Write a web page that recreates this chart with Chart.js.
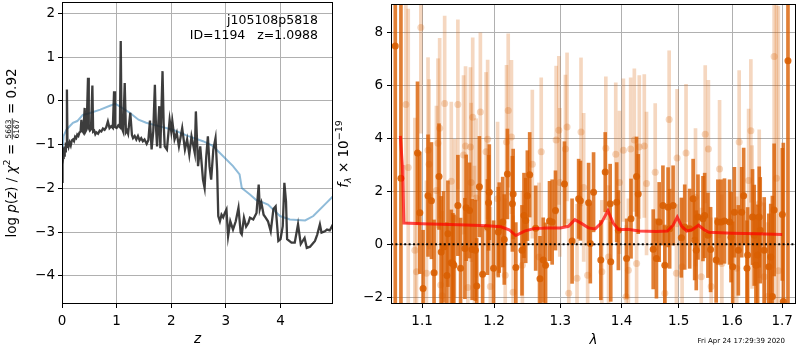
<!DOCTYPE html>
<html><head><meta charset="utf-8">
<script src="https://cdn.jsdelivr.net/npm/chart.js@4.4.0/dist/chart.umd.min.js"></script>
<style>
html,body{margin:0;padding:0;background:#fff;width:800px;height:350px;overflow:hidden;}
#lw{position:absolute;left:0;top:0;width:340px;height:350px;}
#rw{position:absolute;left:325px;top:0;width:475px;height:350px;}
</style></head><body>
<div id="lw"><canvas id="left"></canvas></div>
<div id="rw"><canvas id="right"></canvas></div>
<script>
// ---------- left panel: log p(z) ----------
const pzZ = [0.00,0.01,0.02,0.03,0.04,0.05,0.06,0.07,0.08,0.09,0.10,0.12,0.14,0.16,0.18,0.20,0.22,0.24,0.26,0.28,0.30,0.32,0.34,0.355,0.37,0.39,0.415,0.43,0.45,0.476,0.49,0.51,0.53,0.556,0.57,0.59,0.61,0.63,0.66,0.69,0.72,0.75,0.78,0.81,0.84,0.87,0.90,0.93,0.953,0.97,1.00,1.03,1.06,1.075,1.09,1.12,1.148,1.17,1.19,1.21,1.25,1.28,1.30,1.33,1.36,1.39,1.42,1.45,1.48,1.51,1.55,1.58,1.61,1.64,1.67,1.70,1.72,1.74,1.78,1.80,1.84,1.86,1.88,1.92,1.97,2.00,2.02,2.06,2.10,2.14,2.20,2.25,2.29,2.33,2.37,2.43,2.45,2.49,2.53,2.58,2.61,2.64,2.67,2.70,2.73,2.77,2.81,2.84,2.86,2.89,2.92,2.95,2.98,3.01,3.04,3.08,3.13,3.18,3.23,3.27,3.29,3.33,3.37,3.41,3.44,3.50,3.56,3.60,3.62,3.65,3.69,3.73,3.77,3.82,3.87,3.91,3.96,4.00,4.04,4.07,4.10,4.12,4.20,4.26,4.32,4.37,4.44,4.48,4.54,4.63,4.67,4.72,4.75,4.81,4.85,4.90,4.96];
const logPz = [-1.85,-1.45,-1.30,-1.20,-1.25,-1.04,-1.15,-0.95,-1.05,0.26,-0.95,-1.05,-0.95,-1.02,-0.90,-0.88,-0.92,-0.82,-0.85,-0.77,-0.80,-0.72,-0.70,-0.43,-0.68,-0.72,-0.16,-0.70,-0.65,0.53,-0.62,-0.68,-0.65,0.35,-0.70,-0.68,-0.76,-0.72,-0.75,-0.68,-0.70,-0.63,-0.66,-0.60,-0.47,-0.62,-0.58,-0.62,0.22,-0.60,-0.62,-0.56,-0.60,1.37,-0.60,-0.70,0.41,-0.72,-0.68,-0.75,-0.27,-0.78,-0.85,-0.80,-0.88,-0.80,-0.90,-0.85,-0.92,-0.88,-0.98,-0.90,-0.45,-1.11,-0.70,0.37,-0.60,-1.04,-0.12,-1.08,0.68,-0.50,-1.04,-1.11,-0.43,-0.70,-0.47,-0.88,-0.73,-1.04,-0.62,-1.11,-0.88,-1.23,-0.81,-1.19,-0.24,-1.49,-1.04,-1.80,-1.99,-1.27,-0.81,-1.49,-1.80,-1.11,-0.85,-1.60,-2.63,-2.75,-2.60,-2.66,-2.56,-2.48,-3.09,-2.75,-2.94,-2.75,-2.44,-3.01,-3.05,-2.67,-2.87,-2.79,-2.67,-2.71,-2.56,-1.91,-2.47,-2.33,-2.60,-2.67,-2.75,-2.98,-2.47,-2.41,-3.20,-3.16,-2.86,-1.87,-2.30,-3.16,-3.24,-3.24,-2.82,-3.27,-3.13,-3.36,-3.33,-3.20,-3.06,-2.82,-3.01,-2.98,-2.94,-2.96,-2.82];
const chi2Z   = [0.00,0.03,0.08,0.14,0.20,0.28,0.38,0.50,0.70,0.90,0.97,1.05,1.24,1.40,1.54,1.75,2.03,2.30,2.58,2.75,2.89,3.13,3.25,3.29,3.44,3.56,3.62,3.77,3.99,4.17,4.45,4.60,4.84,4.96];
const chi2Val = [-1.30,-0.80,-0.66,-0.58,-0.50,-0.46,-0.32,-0.28,-0.20,-0.10,-0.06,-0.12,-0.27,-0.43,-0.50,-0.57,-0.66,-0.80,-0.92,-1.02,-1.19,-1.49,-1.68,-1.99,-2.14,-2.27,-2.29,-2.37,-2.63,-2.71,-2.73,-2.63,-2.33,-2.18];
const leftXTicks = [0,1,2,3,4];
const leftYTicks = [-4,-3,-2,-1,0,1,2];
const zRange = [0, 4.96];
const logpRange = [-4.64, 2.26];
const objName = 'j105108p5818';
const objInfo = 'ID=1194   z=1.0988';

// ---------- right panel: spectrum ----------
const darkWave = [1.0649,1.0722,1.0939,1.0970,1.1013,1.1079,1.1125,1.1160,1.1227,1.1257,1.1291,1.1335,1.1349,1.1395,1.1417,1.1431,1.1486,1.1524,1.1584,1.1602,1.1649,1.1686,1.1732,1.1751,1.1789,1.1835,1.1904,1.1921,1.1931,1.1993,1.2061,1.2075,1.2126,1.2149,1.2195,1.2269,1.2280,1.2320,1.2412,1.2442,1.2468,1.2493,1.2528,1.2619,1.2685,1.2735,1.2771,1.2832,1.2873,1.2925,1.3066,1.3187,1.3292,1.3320,1.3453,1.3481,1.3534,1.3653,1.3726,1.3808,1.3818,1.3918,1.3946,1.4086,1.4161,1.4256,1.4285,1.4546,1.4603,1.4651,1.4718,1.4752,1.4810,1.4838,1.4900,1.5049,1.5111,1.5202,1.5265,1.5294,1.5323,1.5355,1.5448,1.5480,1.5541,1.5591,1.5696,1.5729,1.5790,1.5855,1.5953,1.5981,1.6014,1.6046,1.6123,1.6188,1.6227,1.6292,1.6305,1.6402,1.6436,1.6469,1.6503,1.6535,1.6555,1.6635,1.6728,1.6767,1.6801,1.6836,1.7004,1.7024,1.7120];
const darkFlux = [7.50,2.50,3.45,1.19,-1.67,1.84,1.65,-1.08,2.56,-0.29,-0.10,-1.18,0.40,-0.70,-0.73,-0.79,1.47,-0.91,-0.16,1.38,1.28,-0.20,-0.23,-1.58,2.18,-1.13,0.65,1.57,1.97,-0.91,0.46,0.63,0.84,0.18,2.66,1.53,1.90,-0.88,-0.23,1.09,0.90,1.84,2.63,0.61,-1.30,-0.60,-0.79,0.88,0.84,1.28,2.28,0.12,1.72,1.65,1.57,0.03,1.97,-0.60,2.73,1.53,-0.66,1.59,0.53,-0.54,0.97,2.56,1.90,-0.19,-0.54,0.84,1.47,-0.79,1.40,0.59,1.47,0.25,0.65,0.59,1.72,0.15,-0.23,1.03,0.97,1.09,0.34,-0.20,-0.60,0.84,0.84,0.88,0.84,0.27,-0.85,1.21,-0.23,1.21,1.84,-0.91,-0.41,1.03,0.34,-0.79,-0.41,1.03,0.53,-0.23,-0.85,-0.48,-1.98,1.30,1.13,-2.17,6.94];
const darkErr  = [20,20,2.7,2.3,2.2,2.3,2.2,2.0,2.0,2.1,2.1,2.0,2.0,2.0,1.9,1.9,1.9,1.9,1.9,2.0,1.8,1.9,1.9,1.8,1.9,1.8,1.8,1.8,1.8,1.8,1.7,1.7,1.7,1.7,1.7,1.8,1.7,1.7,1.7,1.6,1.6,1.7,1.6,1.6,1.6,1.6,1.6,1.5,1.6,1.5,1.6,1.6,1.5,1.5,1.5,1.5,1.5,1.5,1.5,1.5,1.5,1.5,1.5,1.5,1.5,1.5,1.5,1.5,1.5,1.5,1.5,1.5,1.5,1.5,1.5,1.5,1.6,1.5,1.5,1.5,1.5,1.6,1.6,1.6,1.6,1.6,1.6,1.6,1.6,1.6,1.6,1.7,1.7,1.7,1.7,1.7,1.8,1.8,1.8,1.8,1.9,1.9,1.9,1.9,2.0,2.0,2.0,2.0,3.8,2.5,2.5,6.0,20];
const lightWave = [1.0787,1.0817,1.0904,1.0926,1.0983,1.1058,1.1079,1.1093,1.1192,1.1213,1.1236,1.1250,1.1270,1.1304,1.1395,1.1440,1.1486,1.1565,1.1593,1.1625,1.1662,1.1672,1.1694,1.1718,1.1742,1.1803,1.1884,1.1907,1.1946,1.2051,1.2163,1.2182,1.2207,1.2255,1.2280,1.2418,1.2568,1.2669,1.2704,1.2935,1.2977,1.2992,1.3082,1.3107,1.3134,1.3266,1.3330,1.3373,1.3437,1.3670,1.3736,1.3781,1.3902,1.3964,1.4031,1.4077,1.4116,1.4155,1.4218,1.4257,1.4303,1.4390,1.4429,1.4581,1.4752,1.4829,1.4960,1.4972,1.5063,1.5135,1.5309,1.5416,1.5490,1.5550,1.5602,1.5761,1.5805,1.6091,1.6139,1.6324,1.6369,1.6393,1.6535,1.6635,1.6701,1.6836,1.6883,1.6923];
const lightFlux = [5.29,2.90,-0.23,-1.04,8.20,-1.10,3.56,3.03,2.03,3.82,4.39,-1.54,-1.95,5.33,2.38,0.97,5.29,3.38,3.72,-1.64,3.68,2.34,4.81,-0.04,1.75,5.00,3.50,3.97,-1.60,1.72,-1.17,3.87,5.06,4.06,-1.82,-0.79,3.03,-0.48,3.50,3.94,4.31,2.34,3.60,4.44,-1.85,-1.29,4.25,2.15,-1.17,-1.04,3.63,-0.48,3.41,2.34,3.56,-1.99,-0.98,3.60,3.94,-0.73,3.68,3.72,2.30,2.72,-1.85,4.72,-1.10,3.26,-0.85,3.45,1.78,-1.23,4.16,3.60,-1.60,2.85,-0.73,-0.91,3.87,2.41,4.29,1.03,1.53,-1.23,-1.98,7.10,2.50,-1.00];
const lightErr  = [4.5,6.0,5.0,4.5,4.0,3.5,3.5,3.2,3.2,3.2,3.4,3.2,3.2,3.3,3.0,3.0,3.2,3.0,3.0,3.0,3.0,3.0,3.0,3.0,3.0,3.0,3.0,3.0,3.0,2.9,2.9,2.9,2.9,2.9,2.9,2.8,2.8,2.8,2.8,2.8,2.8,2.8,2.8,2.8,2.8,2.8,2.8,2.8,2.8,2.7,2.7,2.7,2.7,2.7,2.7,2.7,2.7,2.7,2.7,2.7,2.7,2.7,2.7,2.6,2.6,2.6,2.6,2.6,2.6,2.6,2.6,2.6,2.6,2.6,2.6,2.6,2.6,2.7,2.7,2.7,2.7,2.7,2.8,2.8,2.8,8.0,9.0,10.0];
const modelWave = [1.0715,1.0740,1.0747,1.0760,1.10,1.15,1.19,1.21,1.222,1.232,1.245,1.26,1.28,1.30,1.313,1.323,1.333,1.345,1.356,1.366,1.377,1.386,1.395,1.41,1.43,1.46,1.48,1.49,1.4975,1.505,1.515,1.525,1.5365,1.547,1.556,1.60,1.65,1.70];
const modelFlux = [4.10,3.00,2.50,0.80,0.78,0.74,0.70,0.66,0.55,0.33,0.50,0.60,0.62,0.62,0.68,0.93,0.80,0.62,0.58,0.80,1.27,0.80,0.55,0.57,0.50,0.48,0.50,0.72,1.03,0.70,0.50,0.55,0.72,0.55,0.45,0.42,0.40,0.37];
const rightXTicks = [1.1,1.2,1.3,1.4,1.5,1.6,1.7];
const rightYTicks = [-2,0,2,4,6,8];
const lamRange = [1.0594, 1.7287];
const fluxRange = [-2.26, 9.09];
const stamp = 'Fri Apr 24 17:29:39 2020';

// ---------- helpers ----------
const FAM = "'DejaVu Sans', sans-serif";
const F = (s, it) => (it ? 'italic ' : '') + s + 'px ' + FAM;
const minus = v => String(v).replace('-', '\u2212');
const fixY = w => s => { s.width = w; s.paddingTop = 0; s.paddingBottom = 0; };
const fixX = h => s => { s.height = h; s.paddingLeft = 0; s.paddingRight = 0; };
const setTicks = arr => s => { s.ticks = arr.map(v => ({value: v})); };
const gridOpts = {color:'#b0b0b0', lineWidth:1, tickColor:'#000', tickLength:4, tickWidth:1};
const tickFont = {family: FAM, size: 13.5};

function drawRich(ctx, segs, cx, cy, rot) {
  ctx.save();
  ctx.translate(cx, cy);
  if (rot) ctx.rotate(-Math.PI / 2);
  ctx.fillStyle = '#000'; ctx.textAlign = 'left'; ctx.textBaseline = 'alphabetic';
  let total = 0;
  segs.forEach(s => {
    ctx.font = s.font;
    s.w = s.frac ? Math.max(ctx.measureText(s.num).width, ctx.measureText(s.den).width) + 2 : ctx.measureText(s.t).width;
    total += s.w;
  });
  let x = -total / 2;
  segs.forEach(s => {
    ctx.font = s.font;
    if (s.frac) {
      const wn = ctx.measureText(s.num).width, wd = ctx.measureText(s.den).width;
      ctx.fillText(s.num, x + (s.w - wn) / 2, s.numY);
      ctx.fillText(s.den, x + (s.w - wd) / 2, s.denY);
      ctx.fillRect(x, s.barY - 0.4, s.w, 0.8);
    } else {
      ctx.fillText(s.t, x, s.dy || 0);
    }
    x += s.w;
  });
  ctx.restore();
}

const framePlugin = {
  id: 'frame',
  afterDatasetsDraw(chart) {
    const a = chart.chartArea, c = chart.ctx;
    c.save(); c.strokeStyle = '#000'; c.lineWidth = 1;
    c.strokeRect(Math.round(a.left) + 0.5, Math.round(a.top) + 0.5, Math.round(a.right - a.left) - 1, Math.round(a.bottom - a.top) - 1);
    c.restore();
  }
};

const leftText = {
  id: 'leftText',
  afterDraw(chart) {
    const c = chart.ctx, a = chart.chartArea;
    c.save();
    c.fillStyle = '#000'; c.font = F(12.5); c.textAlign = 'right'; c.textBaseline = 'alphabetic';
    c.fillText(objName, a.right - 15, 24);
    c.fillText(objInfo, a.right - 15, 39);
    c.textAlign = 'center'; c.font = F(13.5, true);
    c.fillText('z', (a.left + a.right) / 2, 343);
    c.restore();
    drawRich(c, [
      {t:'log ', font:F(13.5)}, {t:'p', font:F(13.5, true)}, {t:'(', font:F(13.5)}, {t:'z', font:F(13.5, true)},
      {t:') / ', font:F(13.5)}, {t:'\u03c7', font:F(13.5, true)}, {t:'2', font:F(9.5), dy:-5.5},
      {t:' = ', font:F(13.5)},
      {frac:true, num:'5663', den:'6167', font:F(7.5), numY:-4.6, denY:3.2, barY:-3.3},
      {t:' = 0.92', font:F(13.5)}
    ], 15.5, (a.top + a.bottom) / 2, true);
  }
};

const rightText = {
  id: 'rightText',
  afterDraw(chart) {
    const c = chart.ctx, a = chart.chartArea;
    c.save();
    c.fillStyle = '#000'; c.textAlign = 'center'; c.textBaseline = 'alphabetic';
    c.font = F(13.5, true);
    c.fillText('\u03bb', (a.left + a.right) / 2, 344);
    c.font = F(7); c.textAlign = 'right';
    c.fillText(stamp, a.right - 11, 343);
    c.restore();
    drawRich(c, [
      {t:'f', font:F(13.5, true)}, {t:'\u03bb', font:F(9.5, true), dy:2.8},
      {t:' \u00d7 10', font:F(13.5)}, {t:'\u221219', font:F(9.5), dy:-6}
    ], a.left - 43, (a.top + a.bottom) / 2, true);
  }
};

const common = {
  responsive: true, maintainAspectRatio: false, animation: false, events: [],
  plugins: {legend: {display: false}, tooltip: {enabled: false}}
};

// ---------- left chart ----------
new Chart(document.getElementById('left'), {
  type: 'scatter',
  data: {datasets: [
    {data: pzZ.map((z, i) => ({x: z, y: logPz[i]})), showLine: true, borderColor: 'rgba(34,34,34,0.88)', borderWidth: 2.3, pointRadius: 0, tension: 0, order: 1},
    {data: chi2Z.map((z, i) => ({x: z, y: chi2Val[i]})), showLine: true, borderColor: 'rgba(31,119,180,0.5)', borderWidth: 2, pointRadius: 0, tension: 0, order: 2}
  ]},
  options: Object.assign({}, common, {
    layout: {padding: {top: 2, right: 7, left: 0, bottom: 0}},
    scales: {
      x: {type: 'linear', min: zRange[0], max: zRange[1], afterBuildTicks: setTicks(leftXTicks), afterFit: fixX(46),
          grid: gridOpts, border: {display: false},
          ticks: {font: tickFont, color: '#000', padding: 5, maxRotation: 0, callback: v => minus(v)}},
      y: {type: 'linear', min: logpRange[0], max: logpRange[1], afterBuildTicks: setTicks(leftYTicks), afterFit: fixY(62),
          grid: gridOpts, border: {display: false},
          ticks: {font: tickFont, color: '#000', padding: 3, callback: v => minus(v)}}
    }
  }),
  plugins: [framePlugin, leftText]
});

// ---------- right chart ----------
const barOf = (w, f, e) => w.map((x, i) => ({x: x, y: [f[i] - e[i], f[i] + e[i]]}));
const ptsOf = (w, f) => w.map((x, i) => ({x: x, y: f[i]}));
new Chart(document.getElementById('right'), {
  type: 'scatter',
  data: {datasets: [
    {type: 'bar', data: barOf(lightWave, lightFlux, lightErr), backgroundColor: 'rgba(217,95,2,0.25)', barThickness: 3, grouped: false, borderWidth: 0, order: 6},
    {type: 'scatter', data: ptsOf(lightWave, lightFlux), backgroundColor: 'rgba(217,95,2,0.25)', pointRadius: 3.5, pointBorderWidth: 0, order: 5},
    {type: 'bar', data: barOf(darkWave, darkFlux, darkErr), backgroundColor: 'rgba(217,95,2,0.8)', barThickness: 3, grouped: false, borderWidth: 0, order: 4},
    {type: 'scatter', data: ptsOf(darkWave, darkFlux), backgroundColor: 'rgba(217,95,2,0.9)', pointRadius: 3.5, pointBorderWidth: 0, order: 3},
    {type: 'scatter', data: ptsOf(modelWave, modelFlux), showLine: true, borderColor: 'rgba(255,0,0,0.7)', borderWidth: 3, pointRadius: 0, tension: 0, order: 2},
    {type: 'scatter', data: [{x: lamRange[0], y: 0}, {x: lamRange[1], y: 0}], showLine: true, borderColor: '#000', borderWidth: 2, borderDash: [2, 2.4], pointRadius: 0, order: 1}
  ]},
  options: Object.assign({}, common, {
    layout: {padding: {top: 2, right: 1, left: 0, bottom: 0}},
    scales: {
      x: {type: 'logarithmic', min: lamRange[0], max: lamRange[1], offset: false, afterBuildTicks: setTicks(rightXTicks), afterFit: fixX(46),
          grid: Object.assign({offset: false}, gridOpts), border: {display: false},
          ticks: {font: tickFont, color: '#000', padding: 5, maxRotation: 0, autoSkip: false, callback: v => Number(v).toFixed(1)}},
      y: {type: 'linear', min: fluxRange[0], max: fluxRange[1], afterBuildTicks: setTicks(rightYTicks), afterFit: fixY(66),
          grid: gridOpts, border: {display: false},
          ticks: {font: tickFont, color: '#000', padding: 4, callback: v => minus(v)}}
    }
  }),
  plugins: [framePlugin, rightText]
});
</script>
</body></html>
